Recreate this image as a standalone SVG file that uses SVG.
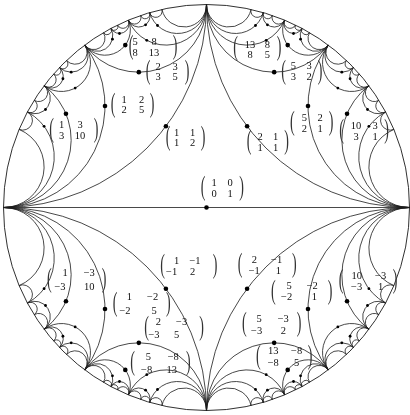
<svg xmlns="http://www.w3.org/2000/svg" width="410" height="415" viewBox="0 0 410 415">
<style>
.arc{fill:none;stroke:#1a1a1a;stroke-width:0.8}
.bd{fill:none;stroke:#1a1a1a;stroke-width:0.9}
.big{fill:#000}
.sm{fill:#000}
.t{font-family:"Liberation Serif","DejaVu Serif",serif;font-size:10.5px;fill:#111;text-anchor:middle}
.p{font-family:"Liberation Serif","DejaVu Serif",serif;font-size:14px;fill:#333;text-anchor:middle}
</style>
<defs>
<filter id="gray" x="-50%" y="-50%" width="200%" height="200%"><feColorMatrix type="saturate" values="0"/></filter>
</defs>
<rect width="410" height="415" fill="#fff"/>
<g id="boundary">
<circle class="bd" cx="206.5" cy="207.5" r="203"/>
</g>
<g id="connectors">
<path class="arc" d="M3.5 207.5H409.5"/>
<g id="arcs-ur">
<path class="arc" d="M206.5 4.5A203 203 0 0 0 409.5 207.5"/>
<path class="arc" d="M206.5 4.5A67.67 67.67 0 0 0 328.3 45.1"/>
<path class="arc" d="M328.3 45.1A101.5 101.5 0 0 0 409.5 207.5"/>
<path class="arc" d="M206.5 4.5A40.6 40.6 0 0 0 284.58 20.11"/>
<path class="arc" d="M284.58 20.11A25.38 25.38 0 0 0 328.3 45.1"/>
<path class="arc" d="M328.3 45.1A29 29 0 0 0 368.9 85.7"/>
<path class="arc" d="M368.9 85.7A67.67 67.67 0 0 0 409.5 207.5"/>
<path class="arc" d="M206.5 4.5A29 29 0 0 0 263.34 12.62"/>
<path class="arc" d="M263.34 12.62A11.28 11.28 0 0 0 284.58 20.11"/>
<path class="arc" d="M284.58 20.11A9.67 9.67 0 0 0 302.03 28.38"/>
<path class="arc" d="M302.03 28.38A15.62 15.62 0 0 0 328.3 45.1"/>
<path class="arc" d="M328.3 45.1A16.92 16.92 0 0 0 353.5 67.5"/>
<path class="arc" d="M353.5 67.5A11.94 11.94 0 0 0 368.9 85.7"/>
<path class="arc" d="M368.9 85.7A15.62 15.62 0 0 0 385.62 111.97"/>
<path class="arc" d="M385.62 111.97A50.75 50.75 0 0 0 409.5 207.5"/>
<path class="arc" d="M206.5 4.5A22.56 22.56 0 0 0 251.06 9.45"/>
<path class="arc" d="M251.06 9.45A6.34 6.34 0 0 0 263.34 12.62"/>
<path class="arc" d="M263.34 12.62A4.72 4.72 0 0 0 272.34 15.47"/>
<path class="arc" d="M272.34 15.47A6.55 6.55 0 0 0 284.58 20.11"/>
<path class="arc" d="M284.58 20.11A5.97 5.97 0 0 0 295.45 25.03"/>
<path class="arc" d="M295.45 25.03A3.69 3.69 0 0 0 302.03 28.38"/>
<path class="arc" d="M302.03 28.38A4.32 4.32 0 0 0 309.56 32.61"/>
<path class="arc" d="M309.56 32.61A11.28 11.28 0 0 0 328.3 45.1"/>
<path class="arc" d="M328.3 45.1A11.94 11.94 0 0 0 346.5 60.5"/>
<path class="arc" d="M346.5 60.5A4.95 4.95 0 0 0 353.5 67.5"/>
<path class="arc" d="M353.5 67.5A4.41 4.41 0 0 0 359.44 74.02"/>
<path class="arc" d="M359.44 74.02A7.52 7.52 0 0 0 368.9 85.7"/>
<path class="arc" d="M368.9 85.7A8.83 8.83 0 0 0 378.86 100.26"/>
<path class="arc" d="M378.86 100.26A6.77 6.77 0 0 0 385.62 111.97"/>
<path class="arc" d="M385.62 111.97A9.67 9.67 0 0 0 393.89 129.42"/>
<path class="arc" d="M393.89 129.42A40.6 40.6 0 0 0 409.5 207.5"/>
</g>
<use href="#arcs-ur" transform="matrix(-1 0 0 1 413 0)"/>
<use href="#arcs-ur" transform="matrix(1 0 0 -1 0 415)"/>
<use href="#arcs-ur" transform="matrix(-1 0 0 -1 413 415)"/>
</g>
<g id="minor-points">
<circle class="sm" cx="266.21" cy="40.32" r="1.4"/><circle class="sm" cx="337.85" cy="88.09" r="1.4"/><circle class="sm" cx="255.5" cy="25.5" r="1.4"/><circle class="sm" cx="267.4" cy="24.8" r="1.4"/><circle class="sm" cx="293.5" cy="33.5" r="1.4"/><circle class="sm" cx="300.57" cy="39.16" r="1.4"/><circle class="sm" cx="341.83" cy="72.17" r="1.4"/><circle class="sm" cx="350.09" cy="78.77" r="1.4"/><circle class="sm" cx="367.5" cy="109.5" r="1.4"/><circle class="sm" cx="368.9" cy="126.3" r="1.4"/>
<circle class="sm" cx="146.79" cy="40.32" r="1.4"/><circle class="sm" cx="75.15" cy="88.09" r="1.4"/><circle class="sm" cx="157.5" cy="25.5" r="1.4"/><circle class="sm" cx="145.6" cy="24.8" r="1.4"/><circle class="sm" cx="119.5" cy="33.5" r="1.4"/><circle class="sm" cx="112.43" cy="39.16" r="1.4"/><circle class="sm" cx="71.17" cy="72.17" r="1.4"/><circle class="sm" cx="62.91" cy="78.77" r="1.4"/><circle class="sm" cx="45.5" cy="109.5" r="1.4"/><circle class="sm" cx="44.1" cy="126.3" r="1.4"/>
<circle class="sm" cx="266.21" cy="374.68" r="1.4"/><circle class="sm" cx="337.85" cy="326.91" r="1.4"/><circle class="sm" cx="255.5" cy="389.5" r="1.4"/><circle class="sm" cx="267.4" cy="390.2" r="1.4"/><circle class="sm" cx="293.5" cy="381.5" r="1.4"/><circle class="sm" cx="300.57" cy="375.84" r="1.4"/><circle class="sm" cx="341.83" cy="342.83" r="1.4"/><circle class="sm" cx="350.09" cy="336.23" r="1.4"/><circle class="sm" cx="367.5" cy="305.5" r="1.4"/><circle class="sm" cx="368.9" cy="288.7" r="1.4"/>
<circle class="sm" cx="146.79" cy="374.68" r="1.4"/><circle class="sm" cx="75.15" cy="326.91" r="1.4"/><circle class="sm" cx="157.5" cy="389.5" r="1.4"/><circle class="sm" cx="145.6" cy="390.2" r="1.4"/><circle class="sm" cx="119.5" cy="381.5" r="1.4"/><circle class="sm" cx="112.43" cy="375.84" r="1.4"/><circle class="sm" cx="71.17" cy="342.83" r="1.4"/><circle class="sm" cx="62.91" cy="336.23" r="1.4"/><circle class="sm" cx="45.5" cy="305.5" r="1.4"/><circle class="sm" cx="44.1" cy="288.7" r="1.4"/>
</g>
<g id="labels" filter="url(#gray)">
<g id="n-1-0-0-1">
<circle class="big" cx="206.5" cy="207.5" r="2.3"/>
<text class="p" transform="translate(203 195.2) scale(1 2)">(</text><text class="p" transform="translate(241.7 195.2) scale(1 2)">)</text>
<text class="t" x="214" y="186.3">1</text><text class="t" x="230" y="186.3">0</text><text class="t" x="214" y="196.9">0</text><text class="t" x="230" y="196.9">1</text>
</g>
<g id="n-5-8-8-13">
<circle class="big" cx="125.3" cy="45.1" r="2.3"/>
<text class="p" transform="translate(131 54.2) scale(1 2)">(</text><text class="p" transform="translate(175 54.2) scale(1 2)">)</text>
<text class="t" x="135" y="45.3">5</text><text class="t" x="154" y="45.3">8</text><text class="t" x="135" y="55.9">8</text><text class="t" x="154" y="55.9">13</text>
</g>
<g id="n-2-3-3-5">
<circle class="big" cx="138.83" cy="72.17" r="2.3"/>
<text class="p" transform="translate(148 78.7) scale(1 2)">(</text><text class="p" transform="translate(187 78.7) scale(1 2)">)</text>
<text class="t" x="158" y="69.6">2</text><text class="t" x="175" y="69.6">3</text><text class="t" x="158" y="80.3">3</text><text class="t" x="175" y="80.3">5</text>
</g>
<g id="n-1-2-2-5">
<circle class="big" cx="105" cy="106" r="2.3"/>
<text class="p" transform="translate(113 111.7) scale(1 2)">(</text><text class="p" transform="translate(152 111.7) scale(1 2)">)</text>
<text class="t" x="124" y="102.6">1</text><text class="t" x="141.7" y="102.6">2</text><text class="t" x="124" y="112.9">2</text><text class="t" x="141.7" y="112.9">5</text>
</g>
<g id="n-1-3-3-10">
<circle class="big" cx="65.96" cy="113.81" r="2.3"/>
<text class="p" transform="translate(51.7 136.7) scale(1 2)">(</text><text class="p" transform="translate(96 136.7) scale(1 2)">)</text>
<text class="t" x="61.7" y="127.6">1</text><text class="t" x="80" y="127.6">3</text><text class="t" x="61.7" y="138.6">3</text><text class="t" x="80" y="138.6">10</text>
</g>
<g id="n-1-1-1-2">
<circle class="big" cx="165.9" cy="126.3" r="2.3"/>
<text class="p" transform="translate(168 144.9) scale(1 2)">(</text><text class="p" transform="translate(203 144.9) scale(1 2)">)</text>
<text class="t" x="176.7" y="136.3">1</text><text class="t" x="192.7" y="136.3">1</text><text class="t" x="176.7" y="146.3">1</text><text class="t" x="192.7" y="146.3">2</text>
</g>
<g id="n-13-8-8-5">
<circle class="big" cx="287.7" cy="45.1" r="2.3"/>
<text class="p" transform="translate(235.7 54.6) scale(1 1.9)">(</text><text class="p" transform="translate(279 54.6) scale(1 1.9)">)</text>
<text class="t" x="250" y="47.6">13</text><text class="t" x="267.3" y="47.6">8</text><text class="t" x="250" y="57.9">8</text><text class="t" x="267.3" y="57.9">5</text>
</g>
<g id="n-5-3-3-2">
<circle class="big" cx="274.17" cy="72.17" r="2.3"/>
<text class="p" transform="translate(283.5 78.6) scale(1 1.9)">(</text><text class="p" transform="translate(320 78.6) scale(1 1.9)">)</text>
<text class="t" x="293.3" y="68.9">5</text><text class="t" x="309" y="68.9">3</text><text class="t" x="293.3" y="79.6">3</text><text class="t" x="309" y="79.6">2</text>
</g>
<g id="n-5-2-2-1">
<circle class="big" cx="308" cy="106" r="2.3"/>
<text class="p" transform="translate(292.3 130) scale(1 2)">(</text><text class="p" transform="translate(331 130) scale(1 2)">)</text>
<text class="t" x="304.3" y="120.9">5</text><text class="t" x="320" y="120.9">2</text><text class="t" x="304.3" y="131.9">2</text><text class="t" x="320" y="131.9">1</text>
</g>
<g id="n-10-3-3-1">
<circle class="big" cx="347.04" cy="113.81" r="2.3"/>
<text class="p" transform="translate(341.7 137.7) scale(1 2)">(</text><text class="p" transform="translate(386.7 137.7) scale(1 2)">)</text>
<text class="t" x="356" y="128.6">10</text><text class="t" x="375" y="128.6">3</text><text class="t" x="356" y="139.6">3</text><text class="t" x="375" y="139.6">1</text>
</g>
<g id="n-2-1-1-1">
<circle class="big" cx="247.1" cy="126.3" r="2.3"/>
<text class="p" transform="translate(249 149.2) scale(1 2)">(</text><text class="p" transform="translate(286.7 149.2) scale(1 2)">)</text>
<text class="t" x="260" y="140.3">2</text><text class="t" x="275.7" y="140.3">1</text><text class="t" x="260" y="150.9">1</text><text class="t" x="275.7" y="150.9">1</text>
</g>
<g id="n-1-m3-m3-10">
<circle class="big" cx="65.96" cy="301.19" r="2.3"/>
<text class="p" transform="translate(49.3 286.5) scale(1 2)">(</text><text class="p" transform="translate(104 286.5) scale(1 2)">)</text>
<text class="t" x="65" y="276.3">1</text><text class="t" x="89.3" y="276.3">−3</text><text class="t" x="60" y="289.6">−3</text><text class="t" x="89.3" y="289.6">10</text>
</g>
<g id="n-1-m1-m1-2">
<circle class="big" cx="165.9" cy="288.7" r="2.3"/>
<text class="p" transform="translate(162.7 273.2) scale(1 2)">(</text><text class="p" transform="translate(215 273.2) scale(1 2)">)</text>
<text class="t" x="176.7" y="263.6">1</text><text class="t" x="195" y="263.6">−1</text><text class="t" x="171.7" y="275.3">−1</text><text class="t" x="192.7" y="275.3">2</text>
</g>
<g id="n-1-m2-m2-5">
<circle class="big" cx="105" cy="309" r="2.3"/>
<text class="p" transform="translate(115 310.5) scale(1 2)">(</text><text class="p" transform="translate(168.3 310.5) scale(1 2)">)</text>
<text class="t" x="129.3" y="300.3">1</text><text class="t" x="152.7" y="300.3">−2</text><text class="t" x="125" y="313.6">−2</text><text class="t" x="154" y="313.6">5</text>
</g>
<g id="n-2-m3-m3-5">
<circle class="big" cx="138.83" cy="342.83" r="2.3"/>
<text class="p" transform="translate(146.7 335.2) scale(1 2)">(</text><text class="p" transform="translate(201.7 335.2) scale(1 2)">)</text>
<text class="t" x="158.3" y="325.3">2</text><text class="t" x="181.7" y="325.3">−3</text><text class="t" x="154" y="337.6">−3</text><text class="t" x="176.7" y="337.6">5</text>
</g>
<g id="n-5-m8-m8-13">
<circle class="big" cx="125.3" cy="369.9" r="2.3"/>
<text class="p" transform="translate(132.7 369.7) scale(1 2)">(</text><text class="p" transform="translate(188.3 369.7) scale(1 2)">)</text>
<text class="t" x="148.3" y="359.6">5</text><text class="t" x="173.3" y="359.6">−8</text><text class="t" x="146.7" y="372.6">−8</text><text class="t" x="171.7" y="372.6">13</text>
</g>
<g id="n-2-m1-m1-1">
<circle class="big" cx="247.1" cy="288.7" r="2.3"/>
<text class="p" transform="translate(240 272.2) scale(1 2)">(</text><text class="p" transform="translate(294.3 272.2) scale(1 2)">)</text>
<text class="t" x="254.3" y="262.9">2</text><text class="t" x="276.7" y="262.9">−1</text><text class="t" x="254.3" y="274.3">−1</text><text class="t" x="278.3" y="274.3">1</text>
</g>
<g id="n-5-m2-m2-1">
<circle class="big" cx="308" cy="309" r="2.3"/>
<text class="p" transform="translate(273.3 298.7) scale(1 2)">(</text><text class="p" transform="translate(330 298.7) scale(1 2)">)</text>
<text class="t" x="289" y="288.6">5</text><text class="t" x="312.3" y="288.6">−2</text><text class="t" x="286.7" y="300.3">−2</text><text class="t" x="314.3" y="300.3">1</text>
</g>
<g id="n-10-m3-m3-1">
<circle class="big" cx="347.04" cy="301.19" r="2.3"/>
<text class="p" transform="translate(341 288.2) scale(1 2)">(</text><text class="p" transform="translate(395 288.2) scale(1 2)">)</text>
<text class="t" x="356.7" y="278.6">10</text><text class="t" x="380.7" y="278.6">−3</text><text class="t" x="356.7" y="290.3">−3</text><text class="t" x="380.7" y="290.3">1</text>
</g>
<g id="n-5-m3-m3-2">
<circle class="big" cx="274.17" cy="342.83" r="2.3"/>
<text class="p" transform="translate(244.3 331.2) scale(1 2)">(</text><text class="p" transform="translate(299 331.2) scale(1 2)">)</text>
<text class="t" x="259" y="321.9">5</text><text class="t" x="283.3" y="321.9">−3</text><text class="t" x="256.7" y="333.9">−3</text><text class="t" x="283.3" y="333.9">2</text>
</g>
<g id="n-13-m8-m8-5">
<circle class="big" cx="287.7" cy="369.9" r="2.3"/>
<text class="p" transform="translate(258.3 364.2) scale(1 2)">(</text><text class="p" transform="translate(310 364.2) scale(1 2)">)</text>
<text class="t" x="273.3" y="354.3">13</text><text class="t" x="296.7" y="354.3">−8</text><text class="t" x="273.3" y="365.9">−8</text><text class="t" x="296.7" y="365.9">5</text>
</g>
</g>
</svg>
